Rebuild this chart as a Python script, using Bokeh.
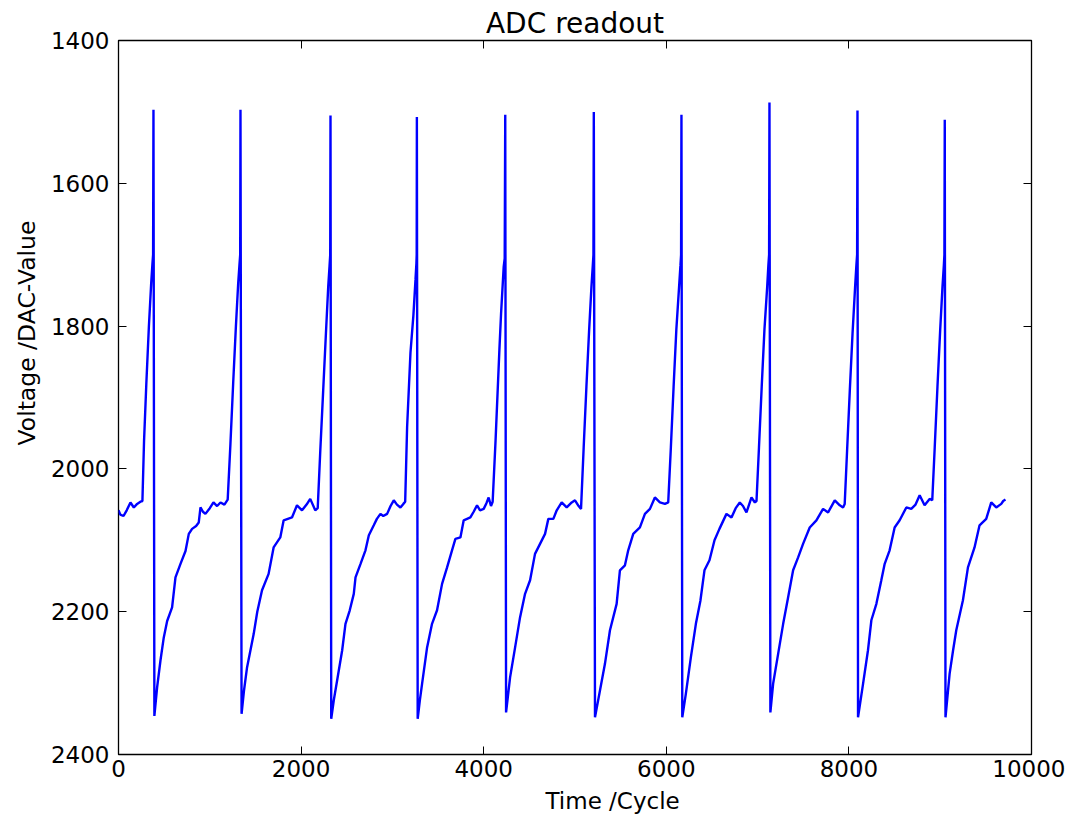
from bokeh.plotting import figure
from bokeh.models import Range1d, FixedTicker, LinearAxis, Title
from bokeh.embed import file_html
from bokeh.resources import INLINE

# ---- data (x: cycle, y: DAC value) ----
time_cycle = [
    0, 20, 55, 90, 131, 168, 204, 240, 262,
    280, 305, 333, 358, 372, 379, 383,
    393, 423, 460, 496, 533, 587, 624, 679, 734, 770, 806, 850, 879, 898, 925, 952,
    1000, 1040, 1080, 1117, 1160, 1196,
    1226, 1256, 1286, 1311, 1326, 1333, 1336,
    1348, 1375, 1408, 1481, 1520, 1572, 1644, 1699, 1772, 1809, 1900, 1955, 2010,
    2060, 2100, 2155, 2182,
    2210, 2242, 2272, 2297, 2312, 2319, 2322,
    2330, 2358, 2395, 2450, 2486, 2533, 2577, 2596, 2651, 2705, 2742, 2796, 2830,
    2869, 2900, 2942, 2980, 3015, 3050, 3088, 3120, 3140,
    3161, 3198, 3230, 3253, 3263, 3266, 3268,
    3277, 3300, 3325, 3380, 3434, 3489, 3544, 3599, 3653, 3690, 3745, 3781, 3854,
    3890, 3927, 3960, 4000, 4030, 4054, 4080, 4098,
    4130, 4172, 4190, 4219, 4230, 4236,
    4245, 4289, 4344, 4398, 4453, 4508, 4562, 4617, 4672, 4708, 4763, 4800, 4854,
    4909, 4964, 5000, 5040, 5066,
    5095, 5125, 5155, 5180, 5195, 5202, 5206,
    5219, 5274, 5328, 5383, 5456, 5492, 5547, 5583, 5638, 5711, 5766, 5821, 5875,
    5930, 5985, 6021,
    6050, 6080, 6110, 6140, 6155, 6162, 6166,
    6175, 6214, 6269, 6324, 6373, 6418, 6473, 6528, 6582, 6659, 6714, 6760, 6805,
    6840, 6878, 6933, 6970, 6988,
    7015, 7045, 7075, 7105, 7118, 7126, 7130,
    7140, 7170, 7225, 7280, 7334, 7389, 7444, 7498, 7571, 7644, 7717, 7772, 7845,
    7900, 7936, 7954,
    7980, 8010, 8040, 8068, 8082, 8090, 8094,
    8100, 8155, 8209, 8246, 8301, 8355, 8392, 8446, 8501, 8556, 8629, 8683, 8730,
    8775, 8829, 8884, 8913,
    8940, 8970, 9000, 9025, 9040, 9046, 9050,
    9058, 9103, 9140, 9176, 9249, 9304, 9376, 9431, 9504, 9559, 9614, 9669, 9690, 9715,
]
dac_value = [
    2058, 2064, 2066, 2058, 2047, 2054, 2049, 2046, 2045,
    1960, 1880, 1800, 1740, 1712, 1700, 1497,
    2346, 2306, 2268, 2236, 2213, 2194, 2152, 2133, 2115, 2091, 2084, 2080, 2075, 2054, 2060, 2063,
    2055, 2047, 2052, 2047, 2050, 2043,
    1965, 1880, 1800, 1740, 1712, 1700, 1497,
    2343, 2310, 2278, 2231, 2200, 2170, 2147, 2110, 2096, 2072, 2068, 2051, 2058,
    2050, 2042, 2058, 2055,
    1975, 1890, 1810, 1745, 1715, 1700, 1505,
    2350, 2324, 2296, 2254, 2217, 2198, 2175, 2152, 2133, 2114, 2093, 2079, 2070,
    2063, 2066, 2063, 2052, 2044, 2050, 2054, 2049, 2046,
    1942, 1837, 1785, 1735, 1712, 1700, 1507,
    2350, 2325, 2301, 2250, 2217, 2198, 2161, 2138, 2114, 2098, 2096, 2072, 2068,
    2060, 2051, 2058, 2056, 2048, 2040, 2052, 2046,
    1960, 1833, 1783, 1717, 1705, 1504,
    2341, 2292, 2250, 2208, 2175, 2156, 2119, 2105, 2091, 2070, 2070, 2058, 2047,
    2054, 2047, 2044, 2052, 2056,
    1970, 1885, 1805, 1745, 1715, 1700, 1500,
    2348, 2310, 2273, 2226, 2189, 2142, 2135, 2114, 2091, 2082, 2063, 2056, 2040,
    2047, 2049, 2047,
    1970, 1885, 1805, 1745, 1715, 1700, 1504,
    2348, 2315, 2264, 2217, 2185, 2142, 2128, 2100, 2084, 2063, 2068, 2055, 2047,
    2052, 2061, 2040, 2047, 2045,
    1970, 1885, 1805, 1745, 1715, 1700, 1487,
    2341, 2301, 2259, 2217, 2180, 2142, 2124, 2105, 2082, 2072, 2056, 2061, 2044,
    2051, 2054, 2049,
    1975, 1890, 1810, 1745, 1715, 1700, 1498,
    2348, 2301, 2254, 2212, 2189, 2156, 2133, 2114, 2082, 2072, 2054, 2056, 2050,
    2037, 2051, 2042, 2044,
    1970, 1885, 1805, 1745, 1715, 1700, 1511,
    2348, 2287, 2255, 2226, 2184, 2138, 2110, 2079, 2070, 2047, 2054, 2049, 2045, 2043,
]
x_ticks = [0, 2000, 4000, 6000, 8000, 10000]
y_ticks = [1400, 1600, 1800, 2000, 2200, 2400]

FONT = "DejaVu Sans"

p = figure(
    frame_width=913, frame_height=714,
    min_border_left=118, min_border_right=34, min_border_top=40, min_border_bottom=54,
    x_range=Range1d(0, 10000), y_range=Range1d(2400, 1400),
    output_backend="svg", toolbar_location=None,
)
p.background_fill_color = "white"
p.border_fill_color = "white"
p.xgrid.visible = False
p.ygrid.visible = False
p.outline_line_color = "black"
p.outline_line_width = 1.3

p.line(time_cycle, dac_value, line_color="#0000ff", line_width=2.4)

def style_axis(ax, ticks, labels=True):
    ax.ticker = FixedTicker(ticks=ticks)
    ax.major_tick_in = 8
    ax.major_tick_out = 0
    ax.minor_tick_line_color = None
    ax.major_tick_line_color = "black"
    ax.major_tick_line_width = 1
    ax.axis_line_color = None
    ax.major_label_text_font = FONT
    ax.major_label_text_font_size = "23px"
    ax.major_label_text_color = "black"
    if not labels:
        ax.major_label_overrides = {t: "" for t in ticks}

style_axis(p.xaxis[0], x_ticks)
p.xaxis[0].major_label_standoff = 5
style_axis(p.yaxis[0], y_ticks)
p.yaxis[0].major_label_standoff = 9

top_ax = LinearAxis()
style_axis(top_ax, x_ticks, labels=False)
p.add_layout(top_ax, "above")
right_ax = LinearAxis()
style_axis(right_ax, y_ticks, labels=False)
p.add_layout(right_ax, "right")

# title
p.title.text = "ADC readout"
p.title.align = "center"
p.title.text_font = FONT
p.title.text_font_size = "28px"
p.title.text_font_style = "normal"
p.title.text_color = "black"
p.title.standoff = 2

# axis labels as side titles (positioned like the reference)
xlab = Title(text="Time /Cycle", align="left", offset=427, text_font=FONT,
             text_font_size="23px", text_font_style="normal", text_color="black",
             standoff=12)
p.add_layout(xlab, "below")
ylab = Title(text="Voltage /DAC-Value", align="left", offset=309, text_font=FONT,
             text_font_size="23.5px", text_font_style="normal", text_color="black",
             standoff=14)
p.add_layout(ylab, "left")

open("out.html", "w").write(file_html(p, INLINE))
